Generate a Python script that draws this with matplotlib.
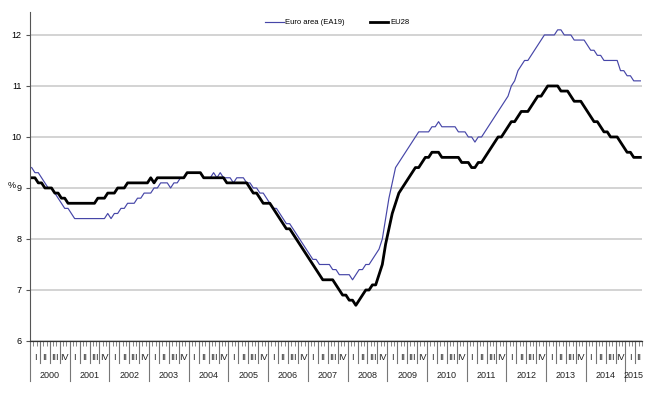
import numpy as np
import matplotlib.pyplot as plt

plt.rcParams['font.family'] = ['Liberation Sans', 'DejaVu Sans']

# monthly unemployment rate (%), Jan 2000 - May 2015
years = list(range(2000, 2016))
quarter_labels = ['I', 'II', 'III', 'IV']

ea19 = [
    9.4, 9.3, 9.3, 9.2, 9.1, 9.0, 9.0, 8.9, 8.8, 8.7, 8.6, 8.6,          # 2000
    8.5, 8.4, 8.4, 8.4, 8.4, 8.4, 8.4, 8.4, 8.4, 8.4, 8.4, 8.5,          # 2001
    8.4, 8.5, 8.5, 8.6, 8.6, 8.7, 8.7, 8.7, 8.8, 8.8, 8.9, 8.9,          # 2002
    8.9, 9.0, 9.0, 9.1, 9.1, 9.1, 9.0, 9.1, 9.1, 9.2, 9.2, 9.3,          # 2003
    9.3, 9.3, 9.3, 9.3, 9.2, 9.2, 9.2, 9.3, 9.2, 9.3, 9.2, 9.2,          # 2004
    9.2, 9.1, 9.2, 9.2, 9.2, 9.1, 9.1, 9.0, 9.0, 8.9, 8.9, 8.8,          # 2005
    8.7, 8.6, 8.6, 8.5, 8.4, 8.3, 8.3, 8.2, 8.1, 8.0, 7.9, 7.8,          # 2006
    7.7, 7.6, 7.6, 7.5, 7.5, 7.5, 7.5, 7.4, 7.4, 7.3, 7.3, 7.3,          # 2007
    7.3, 7.2, 7.3, 7.4, 7.4, 7.5, 7.5, 7.6, 7.7, 7.8, 8.0, 8.4,          # 2008
    8.8, 9.1, 9.4, 9.5, 9.6, 9.7, 9.8, 9.9, 10.0, 10.1, 10.1, 10.1,      # 2009
    10.1, 10.2, 10.2, 10.3, 10.2, 10.2, 10.2, 10.2, 10.2, 10.1, 10.1, 10.1,  # 2010
    10.0, 10.0, 9.9, 10.0, 10.0, 10.1, 10.2, 10.3, 10.4, 10.5, 10.6, 10.7,   # 2011
    10.8, 11.0, 11.1, 11.3, 11.4, 11.5, 11.5, 11.6, 11.7, 11.8, 11.9, 12.0,  # 2012
    12.0, 12.0, 12.0, 12.1, 12.1, 12.0, 12.0, 12.0, 11.9, 11.9, 11.9, 11.9,  # 2013
    11.8, 11.7, 11.7, 11.6, 11.6, 11.5, 11.5, 11.5, 11.5, 11.5, 11.3, 11.3,  # 2014
    11.2, 11.2, 11.1, 11.1, 11.1,                                           # 2015
]

eu28 = [
    9.2, 9.2, 9.1, 9.1, 9.0, 9.0, 9.0, 8.9, 8.9, 8.8, 8.8, 8.7,          # 2000
    8.7, 8.7, 8.7, 8.7, 8.7, 8.7, 8.7, 8.7, 8.8, 8.8, 8.8, 8.9,          # 2001
    8.9, 8.9, 9.0, 9.0, 9.0, 9.1, 9.1, 9.1, 9.1, 9.1, 9.1, 9.1,          # 2002
    9.2, 9.1, 9.2, 9.2, 9.2, 9.2, 9.2, 9.2, 9.2, 9.2, 9.2, 9.3,          # 2003
    9.3, 9.3, 9.3, 9.3, 9.2, 9.2, 9.2, 9.2, 9.2, 9.2, 9.2, 9.1,          # 2004
    9.1, 9.1, 9.1, 9.1, 9.1, 9.1, 9.0, 8.9, 8.9, 8.8, 8.7, 8.7,          # 2005
    8.7, 8.6, 8.5, 8.4, 8.3, 8.2, 8.2, 8.1, 8.0, 7.9, 7.8, 7.7,          # 2006
    7.6, 7.5, 7.4, 7.3, 7.2, 7.2, 7.2, 7.2, 7.1, 7.0, 6.9, 6.9,          # 2007
    6.8, 6.8, 6.7, 6.8, 6.9, 7.0, 7.0, 7.1, 7.1, 7.3, 7.5, 7.9,          # 2008
    8.2, 8.5, 8.7, 8.9, 9.0, 9.1, 9.2, 9.3, 9.4, 9.4, 9.5, 9.6,          # 2009
    9.6, 9.7, 9.7, 9.7, 9.6, 9.6, 9.6, 9.6, 9.6, 9.6, 9.5, 9.5,          # 2010
    9.5, 9.4, 9.4, 9.5, 9.5, 9.6, 9.7, 9.8, 9.9, 10.0, 10.0, 10.1,       # 2011
    10.2, 10.3, 10.3, 10.4, 10.5, 10.5, 10.5, 10.6, 10.7, 10.8, 10.8, 10.9,  # 2012
    11.0, 11.0, 11.0, 11.0, 10.9, 10.9, 10.9, 10.8, 10.7, 10.7, 10.7, 10.6,  # 2013
    10.5, 10.4, 10.3, 10.3, 10.2, 10.1, 10.1, 10.0, 10.0, 10.0, 9.9, 9.8,    # 2014
    9.7, 9.7, 9.6, 9.6, 9.6,                                                 # 2015
]

n = len(ea19)
x = np.arange(n) + 0.5

W, H = 645, 399
fig = plt.figure(figsize=(W / 100, H / 100), dpi=100)
ax_left, ax_right, ax_top, ax_bottom = 30, 642, 12, 341
ax = fig.add_axes([ax_left / W, 1 - ax_bottom / H,
                   (ax_right - ax_left) / W, (ax_bottom - ax_top) / H])
ax_h = ax_bottom - ax_top

ax.plot(x, ea19, color='#4646a8', lw=0.85, label='Euro area (EA19)')
ax.plot(x, eu28, color='black', lw=2.0, label='EU28')

ax.set_xlim(0, n)
ax.set_ylim(6, 12.45)
ax.set_yticks(range(6, 13))
ax.tick_params(axis='y', labelsize=6.5, length=3, color='#555555', pad=3)
ax.yaxis.grid(True, color='#c8c8c8', lw=1.1)
ax.set_axisbelow(True)

for side in ['top', 'right']:
    ax.spines[side].set_visible(False)
ax.spines['left'].set_color('#555555')
ax.spines['bottom'].set_color('#333333')
ax.spines['left'].set_linewidth(0.8)
ax.spines['bottom'].set_linewidth(0.9)

# month ticks
ax.set_xticks(np.arange(0, n + 1))
ax.set_xticklabels([])
ax.tick_params(axis='x', length=3.5, width=0.6, color='#777777', direction='out')

trans = ax.get_xaxis_transform()
q_bottom = -22 / ax_h
y_bottom = -40 / ax_h
q_text = -16 / ax_h
y_text = -34 / ax_h

for m in range(0, n, 3):
    if m % 12 == 0:
        ax.plot([m, m], [0, y_bottom], transform=trans, clip_on=False,
                color='#777777', lw=0.8)
    else:
        ax.plot([m, m], [0, q_bottom], transform=trans, clip_on=False,
                color='#777777', lw=0.8)
    q_end = min(m + 3, n)
    ax.text((m + q_end) / 2, q_text, quarter_labels[(m // 3) % 4], transform=trans,
            ha='center', va='center', fontsize=6.5, color='#222222')

for k, yr in enumerate(years):
    start = k * 12
    end = min(start + 12, n)
    ax.text((start + end) / 2, y_text, str(yr), transform=trans,
            ha='center', va='center', fontsize=6.5, color='#222222')

fig.text(8 / W, 1 - 186 / H, '%', fontsize=6.5, ha='left', va='center')

ax.legend(loc='upper center', bbox_to_anchor=(0.502, 1.0), ncol=2, frameon=False,
          fontsize=5.5, handlelength=2.4, handletextpad=0.2, columnspacing=3.3)

fig.savefig('out.png', dpi=100)
